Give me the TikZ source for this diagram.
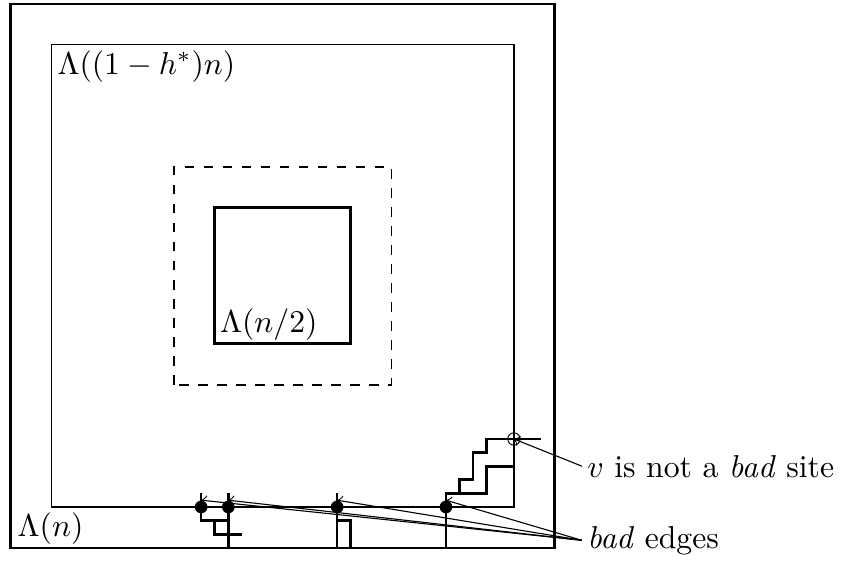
\documentclass[tikz,border=0pt]{standalone}
\begin{document}
\begin{tikzpicture}[x=4.291pt,y=4.291pt,
  outerbox/.style={line width=0.8pt},
  midbox/.style={line width=0.45pt},
  innerbox/.style={line width=0.85pt},
  dashbox/.style={line width=0.6pt,dashed},
  badpath/.style={line width=0.85pt},
  baddot/.style={circle,fill,inner sep=0pt,minimum size=4pt},
  sitecirc/.style={circle,draw,line width=0.3pt,inner sep=0pt,minimum size=3.9pt},
  pointer/.style={line width=0.35pt,->},
  lbl/.style={inner sep=1.5pt}]
\useasboundingbox (-20.79,-20.97) rectangle (41.71,20.28);
% boxes
\draw[outerbox] (-20,-20) rectangle (20,20);
\draw[midbox] (-17,-17) rectangle (17,17);
\draw[dashbox] (-8,-8) rectangle (8,8);
\draw[innerbox] (-5,-5) rectangle (5,5);
% box labels
\node[anchor=north west,inner sep=1.7pt] (lmid) at (-17,17) {$\Lambda((1-h^*)n)$};
\node[anchor=south west,inner xsep=2pt,inner ysep=0.8pt] (lout) at (-20,-20) {$\Lambda(n)$};
\node[anchor=south west,inner xsep=1.5pt,inner ysep=0.8pt] (lin) at (-5,-5) {$\Lambda(n/2)$};
% paths
\draw[badpath] (-6,-16) -- (-6,-18) -- (-4,-18);
\draw[badpath] (-5,-18) -- (-5,-19) -- (-3,-19);
\draw[badpath] (-4,-16) -- (-4,-20);
\draw[badpath] (4,-16) -- (4,-20);
\draw[badpath] (4,-18) -- (5,-18) -- (5,-20);
\draw[badpath] (19,-12) -- (15,-12) -- (15,-13) -- (14,-13) -- (14,-15) -- (13,-15) -- (13,-16) -- (12,-16) -- (12,-20);
\draw[badpath] (17,-12) -- (17,-14) -- (15,-14) -- (15,-16) -- (13,-16);
% dots
\node[baddot] (d1) at (-6,-17) {};
\node[baddot] (d2) at (-4,-17) {};
\node[baddot] (d3) at (4,-17) {};
\node[baddot] (d4) at (12,-17) {};
\coordinate (m1) at (-6,-16.5);
\coordinate (m2) at (-4,-16.5);
\coordinate (m3) at (4,-16.5);
\coordinate (m4) at (12,-16.5);
% site v
\node[sitecirc] (v) at (17,-12) {};
% labels
\node[lbl,anchor=west] (vlab) at (22,-14) {$v$ is not a \emph{bad} site};
\node[lbl,anchor=west] (badlab) at (22,-19.45) {\emph{bad} edges};
\draw[pointer] (vlab.west) -- (v.center);
\draw[pointer] (badlab.west) -- (m1);
\draw[pointer] (badlab.west) -- (m2);
\draw[pointer] (badlab.west) -- (m3);
\draw[pointer] (badlab.west) -- (m4);
\end{tikzpicture}
\end{document}
